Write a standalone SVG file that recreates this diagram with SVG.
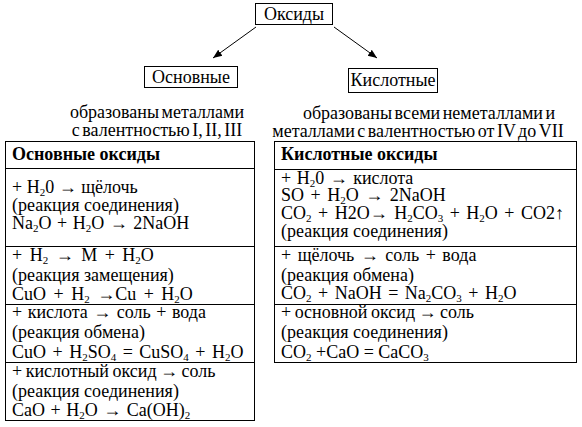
<svg xmlns="http://www.w3.org/2000/svg" width="582" height="427" viewBox="0 0 582 427" font-family="Liberation Serif, serif" font-size="18">
<style>
text{font-family:"Liberation Serif",serif;font-size:18px;fill:#000;white-space:pre}
.b{font-weight:bold}
.s{font-size:11px}
.box{fill:#fff;stroke:#000;stroke-width:1}
.ln{stroke:#000;stroke-width:1;fill:none}
</style>
<defs>
<marker id="ah" viewBox="0 0 10 10" refX="10" refY="5" markerWidth="9" markerHeight="9" orient="auto" markerUnits="userSpaceOnUse">
<path d="M0,1 L10,5 L0,9 z" fill="#000"/>
</marker>
</defs>
<rect width="582" height="427" fill="#fff"/>
<g id="connectors">
<line class="ln" x1="256" y1="27" x2="213" y2="58" marker-end="url(#ah)"/>
<line class="ln" x1="334" y1="27" x2="377" y2="58" marker-end="url(#ah)"/>
</g>
<g id="oxides">
<rect class="box" x="255.5" y="3.5" width="77" height="21"/>
<text x="294" y="20" text-anchor="middle">Оксиды</text>
</g>
<g id="basic">
<rect class="box" x="144.5" y="66.5" width="93" height="21"/>
<text x="191" y="83" text-anchor="middle">Основные</text>
</g>
<g id="acidic">
<rect class="box" x="348.5" y="68.5" width="89" height="24"/>
<text x="393" y="86" text-anchor="middle">Кислотные</text>
</g>
<g id="basic-desc">
<text x="157" y="118" text-anchor="middle" word-spacing="-2">образованы металлами</text>
<text x="157" y="136" text-anchor="middle" word-spacing="-2">с валентностью I, II, III</text>
</g>
<g id="acidic-desc">
<text x="429" y="119" text-anchor="middle" word-spacing="-2">образованы всеми неметаллами и</text>
<text x="418" y="137" text-anchor="middle" word-spacing="-2">металлами с валентностью от IV до VII</text>
</g>
<g id="basic-table">
<rect class="box" x="5.5" y="141.5" width="249" height="279"/>
<line class="ln" x1="5.5" y1="168.5" x2="254.5" y2="168.5"/>
<line class="ln" x1="5.5" y1="246.5" x2="254.5" y2="246.5"/>
<line class="ln" x1="5.5" y1="304.5" x2="254.5" y2="304.5"/>
<line class="ln" x1="5.5" y1="362.5" x2="254.5" y2="362.5"/>
<text class="b" x="12" y="160">Основные оксиды</text>
<text x="12" y="193">+ H<tspan class="s" dy="3">2</tspan><tspan dy="-3">0 → щёлочь</tspan></text>
<text x="12" y="211">(реакция соединения)</text>
<text x="12" y="229" word-spacing="1">Na<tspan class="s" dy="3">2</tspan><tspan dy="-3">O + H</tspan><tspan class="s" dy="3">2</tspan><tspan dy="-3">O → 2NaOH</tspan></text>
<text x="12" y="261" word-spacing="3">+ H<tspan class="s" dy="3">2</tspan><tspan dy="-3"> → M + H</tspan><tspan class="s" dy="3">2</tspan><tspan dy="-3">O</tspan></text>
<text x="12" y="281">(реакция замещения)</text>
<text x="12" y="300" word-spacing="3">CuO + H<tspan class="s" dy="3">2</tspan><tspan dy="-3"> →Cu + H</tspan><tspan class="s" dy="3">2</tspan><tspan dy="-3">O</tspan></text>
<text x="12" y="318" word-spacing="1">+ кислота → соль + вода</text>
<text x="12" y="338">(реакция обмена)</text>
<text x="12" y="358" word-spacing="2">CuO + H<tspan class="s" dy="3">2</tspan><tspan dy="-3">SO</tspan><tspan class="s" dy="3">4</tspan><tspan dy="-3"> = CuSO</tspan><tspan class="s" dy="3">4</tspan><tspan dy="-3"> + H</tspan><tspan class="s" dy="3">2</tspan><tspan dy="-3">O</tspan></text>
<text x="12" y="377" word-spacing="-1">+ кислотный оксид → соль</text>
<text x="12" y="397">(реакция соединения)</text>
<text x="12" y="416" word-spacing="1">CaO + H<tspan class="s" dy="3">2</tspan><tspan dy="-3">O → Ca(OH)</tspan><tspan class="s" dy="3">2</tspan></text>
</g>
<g id="acidic-table">
<rect class="box" x="274.5" y="141.5" width="302" height="221"/>
<line class="ln" x1="274.5" y1="169.5" x2="576.5" y2="169.5"/>
<line class="ln" x1="274.5" y1="246.5" x2="576.5" y2="246.5"/>
<line class="ln" x1="274.5" y1="304.5" x2="576.5" y2="304.5"/>
<text class="b" x="281" y="160">Кислотные оксиды</text>
<text x="281" y="184" word-spacing="1">+ H<tspan class="s" dy="3">2</tspan><tspan dy="-3">0 → кислота</tspan></text>
<text x="281" y="201" word-spacing="2">SO + H<tspan class="s" dy="3">2</tspan><tspan dy="-3">O → 2NaOH</tspan></text>
<text x="281" y="219" word-spacing="2">CO<tspan class="s" dy="3">2</tspan><tspan dy="-3"> + H2O→ H</tspan><tspan class="s" dy="3">2</tspan><tspan dy="-3">CO</tspan><tspan class="s" dy="3">3</tspan><tspan dy="-3"> + H</tspan><tspan class="s" dy="3">2</tspan><tspan dy="-3">O + CO2↑</tspan></text>
<text x="281" y="237">(реакция соединения)</text>
<text x="281" y="261" word-spacing="2">+ щёлочь → соль + вода</text>
<text x="281" y="281">(реакция обмена)</text>
<text x="281" y="299" word-spacing="2">CO<tspan class="s" dy="3">2</tspan><tspan dy="-3"> + NaOH = Na</tspan><tspan class="s" dy="3">2</tspan><tspan dy="-3">CO</tspan><tspan class="s" dy="3">3</tspan><tspan dy="-3"> + H</tspan><tspan class="s" dy="3">2</tspan><tspan dy="-3">O</tspan></text>
<text x="281" y="318" word-spacing="-1">+ основной оксид → соль</text>
<text x="281" y="338">(реакция соединения)</text>
<text x="281" y="358">CO<tspan class="s" dy="3">2</tspan><tspan dy="-3"> +CaO = CaCO</tspan><tspan class="s" dy="3">3</tspan></text>
</g>
</svg>
